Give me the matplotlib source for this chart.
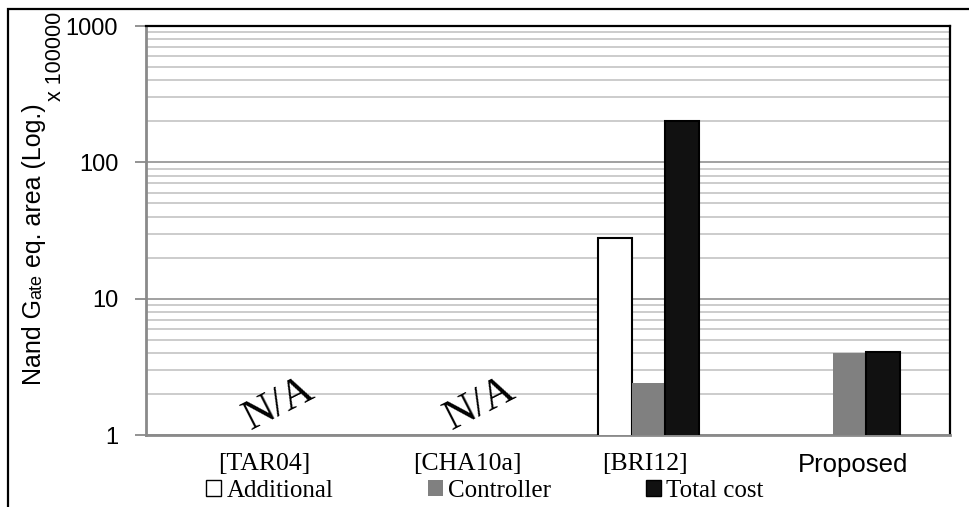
import matplotlib
matplotlib.use("Agg")
import matplotlib.pyplot as plt
from matplotlib.patches import Patch, Rectangle
from matplotlib.ticker import LogLocator, FixedLocator, NullFormatter, FixedFormatter
import numpy as np

# data (values in units of 100000 NAND gate eq.)
categories = ["[TAR04]", "[CHA10a]", "[BRI12]", "Proposed"]
series_names = ["Additional", "Controller", "Total cost"]
additional = [np.nan, np.nan, 28.0, np.nan]
controller = [np.nan, np.nan, 2.4, 4.0]
total_cost = [np.nan, np.nan, 200.0, 4.05]
na_categories = [0, 1]
y_ticks = [1, 10, 100, 1000]

serif = ["Liberation Serif", "DejaVu Serif"]
sans = ["Liberation Sans", "DejaVu Sans"]
narrow = ["Liberation Sans Narrow", "Liberation Sans", "DejaVu Sans"]

W, H = 970, 507
fig = plt.figure(figsize=(W / 100, H / 100), dpi=100)
ax = fig.add_axes([146 / W, 1 - 435 / H, (950 - 146) / W, (435 - 26) / H])

x = np.arange(len(categories))
bw = 0.167
ax.bar(x - bw, additional, bw, bottom=0.01, color="white", edgecolor="black", linewidth=1.5, zorder=3)
ax.bar(x, controller, bw, color="#808080", edgecolor="none", zorder=3)
ax.bar(x + bw, total_cost, bw, color="#111111", edgecolor="black", linewidth=1.5, zorder=3)

ax.set_yscale("log")
ax.set_ylim(1, 1000)
ax.set_xlim(-0.5, len(categories) - 0.5)

ax.yaxis.set_major_locator(FixedLocator(y_ticks))
ax.yaxis.set_major_formatter(FixedFormatter([str(v) for v in y_ticks]))
ax.yaxis.set_minor_locator(LogLocator(base=10, subs=np.arange(2, 10)))
ax.yaxis.set_minor_formatter(NullFormatter())
ax.grid(True, which="major", axis="y", color="#9a9a9a", linewidth=1.3, zorder=0)
ax.grid(True, which="minor", axis="y", color="#c8c8c8", linewidth=1.3, zorder=0)
ax.tick_params(axis="y", which="major", length=8, width=1.3, color="#8a8a8a",
               pad=12, labelsize=17)
ax.tick_params(axis="y", which="minor", length=0)
for lab in ax.get_yticklabels():
    lab.set_fontfamily(sans)

# category labels, slightly shifted like the original
label_shift = [0.09, 0.1, -0.02, 0.02]
ax.set_xticks(x + np.array(label_shift))
ax.set_xticklabels(categories)
ax.tick_params(axis="x", length=0, pad=13, labelsize=18.5)
for i, lab in enumerate(ax.get_xticklabels()):
    lab.set_fontfamily(sans if categories[i] == "Proposed" else serif)

for side in ["left", "bottom"]:
    ax.spines[side].set_color("#8a8a8a")
    ax.spines[side].set_linewidth(2)
for side in ["top", "right"]:
    ax.spines[side].set_color("black")
    ax.spines[side].set_linewidth(1.6)

for c in na_categories:
    ax.text(c + 0.16, 1.68, "N/A", fontsize=31, fontfamily=serif, rotation=27,
            ha="center", va="center", zorder=4)

# y label with small "ate"
pieces = [("Nand G", 18), ("ate", 13), (" eq. area (Log.)", 18)]
fig.canvas.draw()
renderer = fig.canvas.get_renderer()
ypos = 385
for txt, size in pieces:
    t = fig.text(41 / W, 1 - ypos / H, txt, rotation=90, rotation_mode="anchor",
                 ha="left", va="baseline", fontsize=size, fontfamily=narrow)
    bb = t.get_window_extent(renderer)
    ypos -= bb.height

fig.text(61 / W, 1 - 101 / H, "x 100000", rotation=90, rotation_mode="anchor",
         ha="left", va="baseline", fontsize=15.5, fontfamily=sans)

handles = [Patch(facecolor="white", edgecolor="black", linewidth=1),
           Patch(facecolor="#808080", edgecolor="none"),
           Patch(facecolor="#111111", edgecolor="black", linewidth=1)]
fig.legend(handles, series_names, loc="center", bbox_to_anchor=(485 / W, 1 - 491 / H),
           ncol=3, frameon=False, handlelength=0.6, handleheight=0.6,
           handletextpad=0.2, columnspacing=3.8, prop={"family": serif, "size": 18})

fig.patches.append(Rectangle((8 / W, -0.1), 1.2, 1 - 9 / H + 0.1, transform=fig.transFigure,
                             fill=False, edgecolor="black", linewidth=1.6))

fig.savefig("out.png", dpi=100)
